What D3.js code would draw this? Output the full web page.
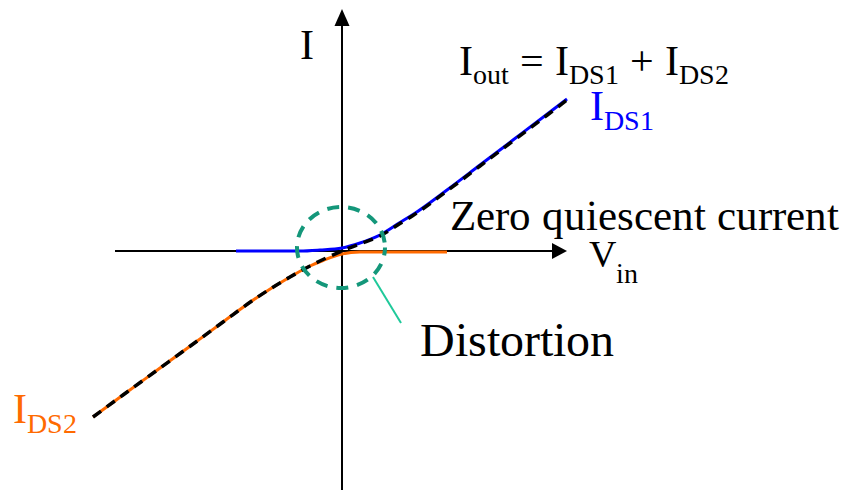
<!DOCTYPE html>
<html>
<head>
<meta charset="utf-8">
<script src="https://cdn.jsdelivr.net/npm/d3@7"></script>
<style>
  @font-face { font-family: "ChartSerif"; src: local("Liberation Serif"), local("LiberationSerif"), local("LiberationSerif-Regular"), local("Tinos"), local("Times New Roman"); }
  svg text, svg tspan { font-family: "ChartSerif", "Liberation Serif", "Tinos", "Times New Roman", serif !important; }
</style>
</head>
<body style="margin:0">
<svg id="chart" width="841" height="492" style="font-family: 'Liberation Serif'"></svg>
<script>
// ---- data (Vin, I in arbitrary units) ----
const ids1Vin = [-4.24, -1.68, -0.88, 0, 0.72, 1.52, 2.32, 2.84, 4.2, 5.52, 6.84, 8.2, 9.0];
const ids1I   = [0, 0, 0.04, 0.12, 0.32, 0.64, 1.14, 1.46, 2.44, 3.44, 4.44, 5.47, 6.08];

const ids2Vin = [-9.96, -8.76, -7.4, -6.08, -4.76, -3.4, -2.08, -1.28, -0.76, 0, 0.72, 1.52, 4.2];
const ids2I   = [-6.64, -5.76, -4.77, -3.81, -2.84, -1.86, -1.04, -0.6, -0.38, -0.12, -0.04, -0.04, -0.04];

const ioutVin = [-9.96, -8.76, -7.4, -6.08, -4.76, -3.4, -2.08, -1.28, -0.76, 0, 0.72, 1.52, 2.32, 2.84, 4.2, 5.52, 6.84, 8.2, 9.0];
const ioutI   = [-6.64, -5.76, -4.77, -3.81, -2.84, -1.86, -1.04, -0.6, -0.34, 0, 0.28, 0.6, 1.10, 1.42, 2.40, 3.40, 4.40, 5.43, 6.04];

const xAxisExtent = [-9.08, 9.0];   // Vin axis: left end, arrow tip
const yAxisExtent = [-9.56, 9.68];  // I axis: bottom end, arrow tip
const distortionZone = {vin: -0.04, i: 0.14, rVin: 1.76, rI: 1.62};

const labels = {
  yAxis: "I",
  xAxis: [["V",""], ["in","sub"]],
  sum: [["I",""],["out","sub"],[" = I",""],["DS1","sub"],[" + I",""],["DS2","sub"]],
  ids1: [["I",""],["DS1","sub"]],
  ids2: [["I",""],["DS2","sub"]],
  zero: "Zero quiescent current",
  distortion: "Distortion"
};

const FONT = "'Liberation Serif'";

// ---- scales ----
const svg = d3.select("#chart");
const x = d3.scaleLinear().domain([-10, 10]).range([92, 592]);
const y = d3.scaleLinear().domain([-10, 10]).range([501, 1]);

// ---- text: each run is its own text element, placed by measured width ----
const textLayer = svg.append("g").attr("font-family", "Liberation Serif");
function richText(parts, px, py, size, subSize, subDy, color) {
  let cx = px;
  parts.forEach(([s, kind]) => {
    const isSub = kind === "sub";
    const t = textLayer.append("text").attr("x", cx).attr("y", isSub ? py + subDy : py)
      .attr("font-size", isSub ? subSize : size).attr("fill", color)
      .attr("font-family", "Liberation Serif")
      .style("font-family", FONT).style("white-space", "pre").text(s);
    cx += t.node().getComputedTextLength();
  });
}
function plainText(s, px, py, size) {
  const t = textLayer.append("text").attr("x", px).attr("y", py).attr("font-size", size)
    .attr("font-family", "Liberation Serif")
    .style("font-family", FONT).text(s);
  t.node().getComputedTextLength();
  return t;
}

// ---- axes ----
const axisColor = "#000";
const marks = svg.insert("g", "g");
marks.append("line")
  .attr("x1", x(xAxisExtent[0])).attr("x2", x(xAxisExtent[1]) - 12)
  .attr("y1", y(0)).attr("y2", y(0))
  .attr("stroke", axisColor).attr("stroke-width", 2);
marks.append("line")
  .attr("x1", x(0)).attr("x2", x(0))
  .attr("y1", y(yAxisExtent[0])).attr("y2", y(yAxisExtent[1]) + 14)
  .attr("stroke", axisColor).attr("stroke-width", 2);
{
  const tx = x(xAxisExtent[1]), ty = y(0);
  marks.append("path").attr("d", `M${tx},${ty} L${tx-15},${ty-8} L${tx-15},${ty+8} Z`).attr("fill", axisColor);
  const ux = x(0), uy = y(yAxisExtent[1]);
  marks.append("path").attr("d", `M${ux},${uy} L${ux-7.5},${uy+17} L${ux+7.5},${uy+17} Z`).attr("fill", axisColor);
}

// ---- curves ----
const line = d3.line().x(d => x(d[0])).y(d => y(d[1])).curve(d3.curveMonotoneX);
const zip = (a, b) => a.map((v, i) => [v, b[i]]);

marks.append("path").datum(zip(ids1Vin, ids1I)).attr("d", line)
  .attr("fill", "none").attr("stroke", "#0000ff").attr("stroke-width", 3);
marks.append("path").datum(zip(ids2Vin, ids2I)).attr("d", line)
  .attr("fill", "none").attr("stroke", "#ff6a00").attr("stroke-width", 3);
marks.append("path").datum(zip(ioutVin, ioutI)).attr("d", line)
  .attr("fill", "none").attr("stroke", "#000").attr("stroke-width", 3.5)
  .attr("stroke-dasharray", "10,7");

// ---- distortion circle ----
marks.append("ellipse")
  .attr("cx", x(distortionZone.vin)).attr("cy", y(distortionZone.i))
  .attr("rx", x(distortionZone.rVin) - x(0)).attr("ry", y(0) - y(distortionZone.rI))
  .attr("fill", "none").attr("stroke", "#14977a").attr("stroke-width", 4)
  .attr("stroke-dasharray", "12,9").attr("stroke-dashoffset", 4);
marks.append("line")
  .attr("x1", 373).attr("y1", 277).attr("x2", 401).attr("y2", 323)
  .attr("stroke", "#1fc99a").attr("stroke-width", 2);

plainText(labels.yAxis, 300, 59, 42);
richText(labels.xAxis, 589, 267, 38, 28, 16, "#000");
richText(labels.sum, 459, 75, 42, 28, 9, "#000");
richText(labels.ids1, 590, 120, 42, 28, 10, "#0000ff");
richText(labels.ids2, 13, 423, 42, 28, 10, "#ff6a00");
plainText(labels.zero, 450, 230, 43);
plainText(labels.distortion, 420, 356, 48);
</script>
</body>
</html>
